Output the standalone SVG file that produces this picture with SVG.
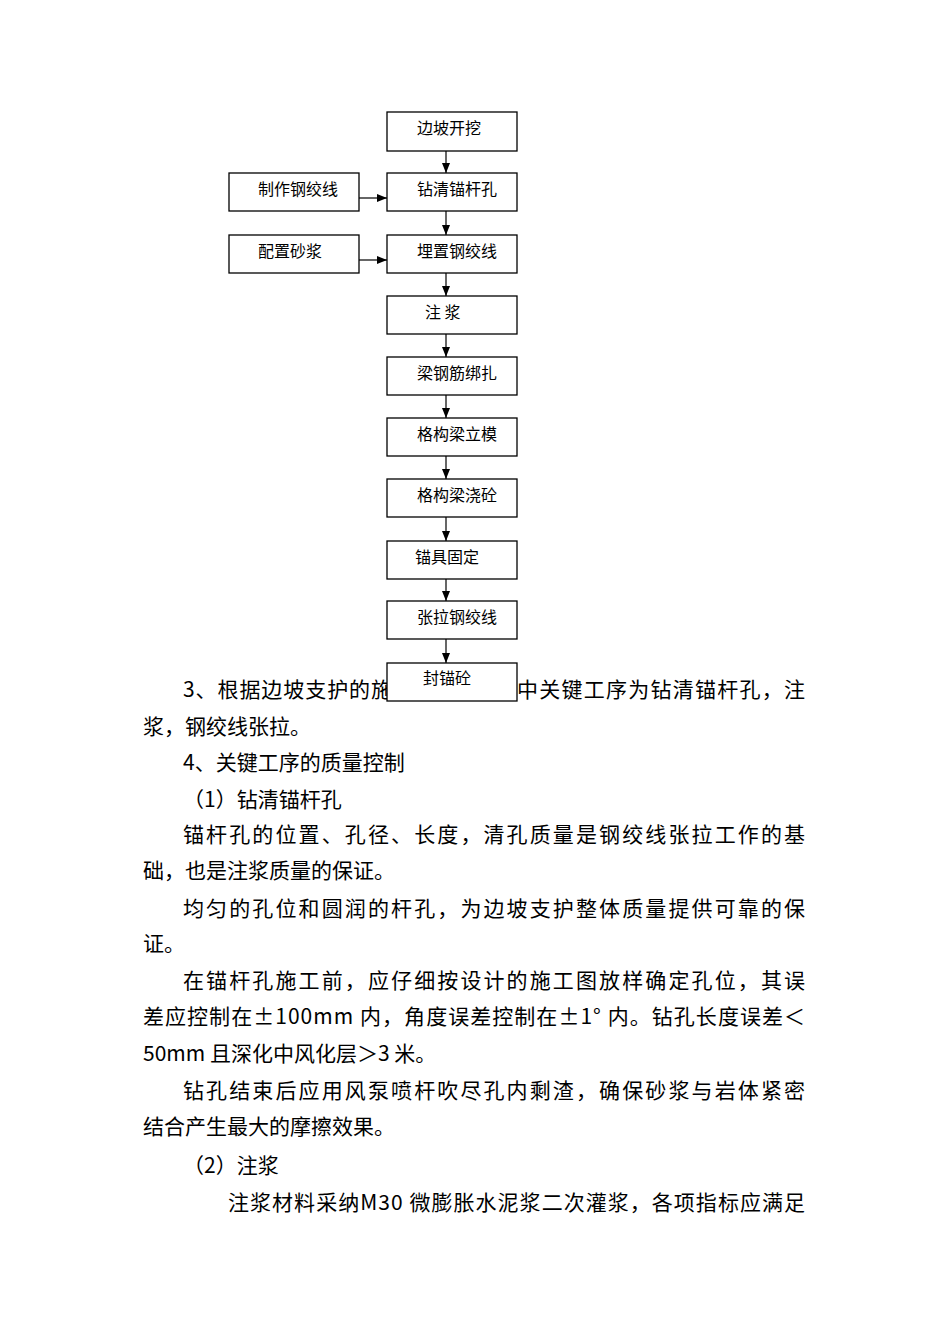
<svg xmlns="http://www.w3.org/2000/svg" width="950" height="1344" viewBox="0 0 950 1344">
<style>
.bg{fill:#ffffff}
.box{fill:#ffffff;stroke:#000000;stroke-width:1.3}
.lbl{font-family:"Noto Sans CJK SC","Noto Sans",sans-serif;font-size:16px;fill:#000000}
.body{font-family:"Noto Sans CJK SC","Noto Sans",sans-serif;font-size:21px;fill:#000000}
.conn{stroke:#000000;stroke-width:1.2;fill:none}
</style>
<defs>
<marker id="ah" viewBox="0 0 10 8" refX="10" refY="4" markerWidth="10" markerHeight="8" markerUnits="userSpaceOnUse" orient="auto">
<path d="M0,0 L10,4 L0,8 Z" fill="#000000"/>
</marker>
</defs>
<rect class="bg" x="0" y="0" width="950" height="1344"/>

<g id="body-text">
<text class="body" x="183" y="697" textLength="209" lengthAdjust="spacing">3、根据边坡支护的施</text>
<text class="body" x="517" y="697" textLength="288" lengthAdjust="spacing">中关键工序为钻清锚杆孔，注</text>
<text class="body" x="143" y="734">浆，钢绞线张拉。</text>
<text class="body" x="183" y="770">4、关键工序的质量控制</text>
<text class="body" x="183" y="807">（1）钻清锚杆孔</text>
<text class="body" x="183" y="842" textLength="622" lengthAdjust="spacing">锚杆孔的位置、孔径、长度，清孔质量是钢绞线张拉工作的基</text>
<text class="body" x="143" y="878">础，也是注浆质量的保证。</text>
<text class="body" x="183" y="916" textLength="622" lengthAdjust="spacing">均匀的孔位和圆润的杆孔，为边坡支护整体质量提供可靠的保</text>
<text class="body" x="143" y="951">证。</text>
<text class="body" x="183" y="988" textLength="622" lengthAdjust="spacing">在锚杆孔施工前，应仔细按设计的施工图放样确定孔位，其误</text>
<text class="body" x="143" y="1024" textLength="662" lengthAdjust="spacing">差应控制在±100mm 内，角度误差控制在±1° 内。钻孔长度误差＜</text>
<text class="body" x="143" y="1061">50mm 且深化中风化层＞3 米。</text>
<text class="body" x="183" y="1098" textLength="622" lengthAdjust="spacing">钻孔结束后应用风泵喷杆吹尽孔内剩渣，确保砂浆与岩体紧密</text>
<text class="body" x="143" y="1134">结合产生最大的摩擦效果。</text>
<text class="body" x="183" y="1173">（2）注浆</text>
<text class="body" x="228" y="1210" textLength="577" lengthAdjust="spacing">注浆材料采纳M30 微膨胀水泥浆二次灌浆，各项指标应满足</text>
</g>

<g id="connectors">
<line class="conn" x1="446" y1="151" x2="446" y2="173" marker-end="url(#ah)"/>
<line class="conn" x1="446" y1="211" x2="446" y2="235" marker-end="url(#ah)"/>
<line class="conn" x1="446" y1="273" x2="446" y2="296" marker-end="url(#ah)"/>
<line class="conn" x1="446" y1="334" x2="446" y2="357" marker-end="url(#ah)"/>
<line class="conn" x1="446" y1="395" x2="446" y2="418" marker-end="url(#ah)"/>
<line class="conn" x1="446" y1="456" x2="446" y2="479" marker-end="url(#ah)"/>
<line class="conn" x1="446" y1="517" x2="446" y2="541" marker-end="url(#ah)"/>
<line class="conn" x1="446" y1="579" x2="446" y2="601" marker-end="url(#ah)"/>
<line class="conn" x1="446" y1="639" x2="446" y2="663" marker-end="url(#ah)"/>
<line class="conn" x1="359" y1="198" x2="387" y2="198" marker-end="url(#ah)"/>
<line class="conn" x1="359" y1="260" x2="387" y2="260" marker-end="url(#ah)"/>
</g>

<g id="n-bianpo"><rect class="box" x="387" y="112" width="130" height="39"/><text class="lbl" x="417" y="134">边坡开挖</text></g>
<g id="n-zuankong"><rect class="box" x="387" y="173" width="130" height="38"/><text class="lbl" x="417" y="195">钻清锚杆孔</text></g>
<g id="n-zhizuo"><rect class="box" x="229" y="173" width="130" height="38"/><text class="lbl" x="258" y="195">制作钢绞线</text></g>
<g id="n-maizhi"><rect class="box" x="387" y="235" width="130" height="38"/><text class="lbl" x="417" y="257">埋置钢绞线</text></g>
<g id="n-peizhi"><rect class="box" x="229" y="235" width="130" height="38"/><text class="lbl" x="258" y="257">配置砂浆</text></g>
<g id="n-zhujiang"><rect class="box" x="387" y="296" width="130" height="38"/><text class="lbl" x="425" y="318">注 浆</text></g>
<g id="n-liang"><rect class="box" x="387" y="357" width="130" height="38"/><text class="lbl" x="417" y="379">梁钢筋绑扎</text></g>
<g id="n-limo"><rect class="box" x="387" y="418" width="130" height="38"/><text class="lbl" x="417" y="440">格构梁立模</text></g>
<g id="n-jiaotong"><rect class="box" x="387" y="479" width="130" height="38"/><text class="lbl" x="417" y="501">格构梁浇砼</text></g>
<g id="n-maoju"><rect class="box" x="387" y="541" width="130" height="38"/><text class="lbl" x="415" y="563">锚具固定</text></g>
<g id="n-zhangla"><rect class="box" x="387" y="601" width="130" height="38"/><text class="lbl" x="417" y="623">张拉钢绞线</text></g>
<g id="n-fengmao"><rect class="box" x="387" y="663" width="130" height="38"/><text class="lbl" x="423" y="684">封锚砼</text></g>
</svg>
